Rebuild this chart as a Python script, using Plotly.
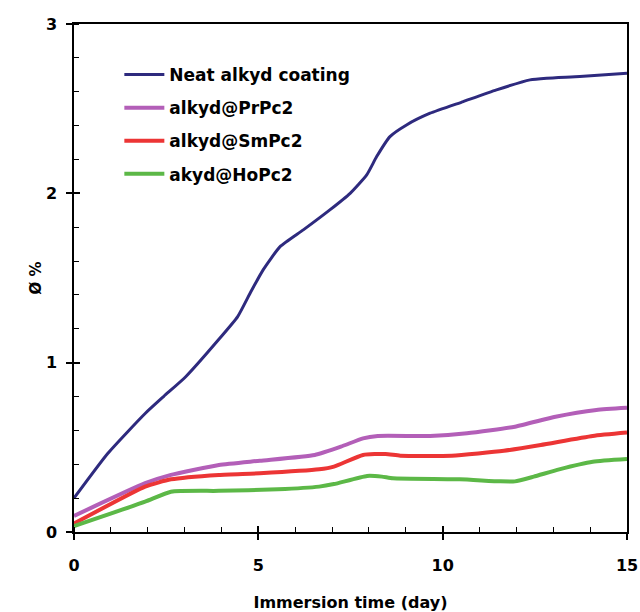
import plotly.graph_objects as go

names = ["Neat alkyd coating", "alkyd@PrPc2", "alkyd@SmPc2", "akyd@HoPc2"]
colors = ["#2e2a7e", "#b35fb8", "#ec3535", "#5cb847"]

neat_x = [0, 0.92, 1.93, 2.43, 3.03, 3.93, 4.44, 4.8, 5.13, 5.59, 6.22, 6.94, 7.49, 7.94, 8.21, 8.57, 9.02, 9.66, 10.56, 11.46, 12.37, 12.82, 13.72, 15]
neat_y = [0.20, 0.465, 0.70, 0.80, 0.917, 1.138, 1.272, 1.42, 1.548, 1.685, 1.784, 1.902, 2.0, 2.109, 2.217, 2.335, 2.404, 2.473, 2.542, 2.611, 2.670, 2.680, 2.690, 2.709]

pr_x = [0, 1.93, 2.63, 3.93, 5.04, 6.53, 7.24, 7.84, 8.24, 9.66, 10.66, 11.96, 13.06, 14.17, 15]
pr_y = [0.095, 0.288, 0.337, 0.396, 0.421, 0.455, 0.504, 0.553, 0.567, 0.567, 0.583, 0.622, 0.681, 0.721, 0.734]

sm_x = [0, 1.93, 2.63, 3.93, 5.04, 6.65, 7.05, 7.84, 8.45, 8.85, 10.25, 11.66, 12.66, 14.07, 15]
sm_y = [0.05, 0.268, 0.311, 0.337, 0.347, 0.370, 0.386, 0.455, 0.461, 0.451, 0.451, 0.480, 0.514, 0.567, 0.587]

ho_x = [0, 1.93, 2.63, 3.93, 5.53, 6.65, 7.05, 7.95, 8.35, 8.65, 10.46, 11.56, 11.96, 12.47, 13.16, 14.07, 15]
ho_y = [0.035, 0.179, 0.238, 0.243, 0.252, 0.268, 0.283, 0.331, 0.327, 0.317, 0.311, 0.299, 0.299, 0.327, 0.370, 0.415, 0.431]

x_ticks = [0, 5, 10, 15]
y_ticks = [0, 1, 2, 3]

series = [(neat_x, neat_y), (pr_x, pr_y), (sm_x, sm_y), (ho_x, ho_y)]
widths = [3, 4, 4, 4]

FAM = "DejaVu Sans, Liberation Sans, Arial, sans-serif"

fig = go.Figure()
for i, ((xs, ys), nm) in enumerate(zip(series, names)):
    fig.add_trace(go.Scatter(x=xs, y=ys, mode="lines", name="<b>" + nm + "</b>",
                             line=dict(color=colors[i], width=widths[i], shape="spline", smoothing=0.5),
                             legendgroup=str(i)))

axis_common = dict(showline=True, linecolor="black", linewidth=1.5, mirror=True,
                   showgrid=False, zeroline=False, ticks="outside", ticklen=6,
                   tickwidth=1.5, tickcolor="black", automargin=False)

fig.update_layout(
    template="none",
    width=640, height=612,
    margin=dict(l=74, r=13, t=24, b=80),
    paper_bgcolor="white", plot_bgcolor="white",
    font=dict(family=FAM, size=16, color="black"),
    showlegend=True,
    legend=dict(x=0.082, y=0.935, xanchor="left", yanchor="top",
                font=dict(family=FAM, size=17, color="black"),
                bgcolor="rgba(0,0,0,0)", tracegroupgap=8, itemwidth=40),
    xaxis=dict(range=[0, 15], tickvals=x_ticks, ticktext=["<b>%d</b>" % v for v in x_ticks],
               **axis_common, ticklabelstandoff=12,
               minor=dict(ticks="inside", dtick=1, ticklen=5, tickwidth=1.2, tickcolor="black"),
               tickfont=dict(size=16, family=FAM, color="black"),
               title=dict(text="<b>Immersion time (day)</b>", standoff=24,
                          font=dict(size=16, family=FAM))),
    yaxis=dict(range=[0, 3], tickvals=y_ticks, ticktext=["<b>%d</b>" % v for v in y_ticks],
               **axis_common, ticklabelstandoff=6,
               minor=dict(ticks="inside", dtick=0.2, ticklen=5, tickwidth=1.2, tickcolor="black"),
               tickfont=dict(size=16, family=FAM, color="black"),
               title=dict(text="<b>Ø %</b>", standoff=1,
                          font=dict(size=15, family=FAM))),
    xaxis2=dict(range=[0, 15], overlaying="x", tickvals=x_ticks, ticks="inside",
                ticklen=6, tickwidth=1.5, tickcolor="black", showticklabels=False,
                showgrid=False, zeroline=False, side="bottom", anchor="y", automargin=False),
    yaxis2=dict(range=[0, 3], overlaying="y", tickvals=y_ticks, ticks="inside",
                ticklen=6, tickwidth=1.5, tickcolor="black", showticklabels=False,
                showgrid=False, zeroline=False, side="left", anchor="x", automargin=False),
)
fig.add_trace(go.Scatter(x=[0], y=[0], xaxis="x2", yaxis="y2", mode="markers",
                         marker=dict(opacity=0), showlegend=False, hoverinfo="skip"))

fig.write_html("out.html",
               config={"displayModeBar": False},
               post_script="document.body.style.margin='0';document.body.style.overflow='hidden';")
